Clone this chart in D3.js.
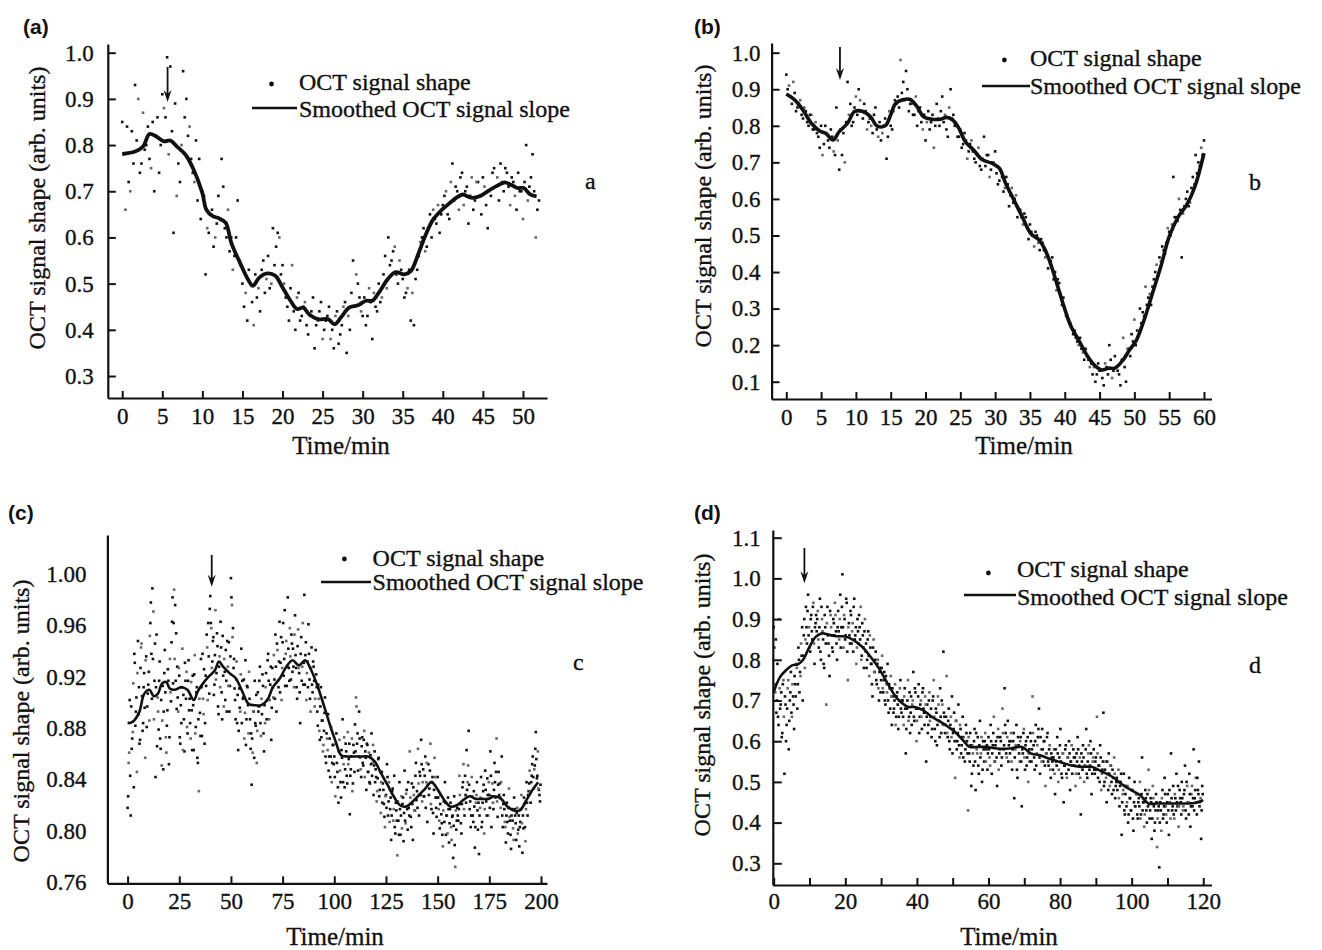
<!DOCTYPE html>
<html>
<head>
<meta charset="utf-8">
<script src="https://cdn.jsdelivr.net/npm/d3@7"></script>
<style>
  body { margin: 0; background: #fff; }
  svg text { font-family: "Liberation Serif", "Times New Roman", serif; fill: #111; stroke: #111; stroke-width: 0.35px; }
  .tag { font-family: "Liberation Sans", Arial, sans-serif; font-weight: bold; }
</style>
</head>
<body>
<svg id="fig" width="1322" height="950"></svg>
<script>
// ---- data ----
// (a)
const xTicksA = [0, 5, 10, 15, 20, 25, 30, 35, 40, 45, 50];
const yTicksA = [0.3, 0.4, 0.5, 0.6, 0.7, 0.8, 0.9, 1.0];
const curveA = [[0,0.781],[1.6,0.786],[2.6,0.797],[3.4,0.824],[4.2,0.819],[5.2,0.808],[6.0,0.81],[6.8,0.797],[7.9,0.779],[8.9,0.747],[10.0,0.696],[10.5,0.66],[11.3,0.646],[12,0.642],[12.9,0.632],[13.6,0.589],[14.7,0.545],[15.7,0.509],[16.3,0.495],[17.1,0.513],[18.1,0.522],[19.1,0.517],[19.9,0.495],[21,0.463],[21.8,0.445],[22.6,0.448],[23.3,0.434],[24.4,0.423],[25.7,0.423],[26.5,0.412],[27.3,0.427],[28.3,0.448],[29.4,0.453],[30.4,0.463],[31.2,0.463],[32,0.48],[33.1,0.509],[34.1,0.525],[35.2,0.52],[36,0.527],[37,0.567],[37.8,0.603],[38.8,0.639],[39.9,0.66],[40.9,0.675],[41.7,0.686],[42.5,0.693],[43.5,0.686],[44.6,0.689],[45.6,0.7],[46.7,0.711],[47.7,0.719],[48.5,0.714],[49.3,0.707],[50.1,0.707],[50.9,0.693],[51.7,0.689]];
// scatter: samples every 0.4 min, first set from t = 0, second from t = 0.2
const scatterA = [
  0.85,0.66,0.72,0.83,0.93,0.90,0.76,0.79,0.84,0.75,
  0.70,0.86,0.80,0.88,0.99,0.97,0.61,0.69,0.72,0.96,
  0.90,0.84,0.74,0.81,0.77,0.70,0.52,0.61,0.66,0.60,
  0.69,0.77,0.62,0.66,0.60,0.56,0.68,0.54,0.45,0.42,
  0.50,0.41,0.47,0.44,0.55,0.51,0.49,0.62,0.58,0.60,
  0.54,0.47,0.42,0.54,0.40,0.48,0.43,0.46,0.39,0.44,
  0.36,0.42,0.46,0.40,0.43,0.38,0.36,0.44,0.39,0.45,
  0.35,0.40,0.55,0.52,0.47,0.43,0.41,0.49,0.38,0.45,
  0.50,0.47,0.56,0.60,0.55,0.58,0.50,0.53,0.47,0.49,
  0.42,0.41,0.53,0.59,0.62,0.58,0.65,0.66,0.63,0.61,
  0.67,0.70,0.64,0.76,0.71,0.66,0.74,0.70,0.63,0.73,
  0.68,0.72,0.65,0.71,0.62,0.69,0.75,0.73,0.76,0.70,
  0.74,0.67,0.72,0.66,0.70,0.64,0.80,0.71,0.78,0.60,
  0.68];
const scatterA2 = [
  0.78,0.84,0.70,0.76,0.81,0.74,0.87,0.80,0.77,0.85,
  0.82,0.74,0.91,0.86,0.78,0.83,0.89,0.76,0.80,0.86,
  0.82,0.77,0.72,0.68,0.64,0.69,0.62,0.65,0.58,0.63,
  0.64,0.71,0.60,0.57,0.53,0.60,0.55,0.50,0.48,0.53,
  0.46,0.52,0.49,0.53,0.48,0.56,0.50,0.54,0.61,0.52,
  0.50,0.45,0.49,0.44,0.47,0.42,0.45,0.41,0.43,0.47,
  0.41,0.44,0.38,0.42,0.45,0.40,0.43,0.37,0.41,0.46,
  0.43,0.48,0.45,0.50,0.44,0.47,0.43,0.46,0.48,0.44,
  0.46,0.52,0.49,0.54,0.57,0.52,0.55,0.51,0.48,0.53,
  0.48,0.51,0.56,0.60,0.57,0.62,0.60,0.64,0.67,0.65,
  0.69,0.65,0.72,0.68,0.70,0.73,0.67,0.71,0.69,0.66,
  0.72,0.69,0.73,0.67,0.70,0.74,0.71,0.68,0.72,0.75,
  0.71,0.73,0.69,0.74,0.70,0.72,0.68,0.73,0.70,0.66];
const arrowA = [5.66, 0.969, 0.893];

// (b)
const xTicksB = [0, 5, 10, 15, 20, 25, 30, 35, 40, 45, 50, 55, 60];
const yTicksB = [0.1, 0.2, 0.3, 0.4, 0.5, 0.6, 0.7, 0.8, 0.9, 1.0];
const curveB = [[0,0.887],[1.2,0.871],[2.4,0.843],[3.6,0.807],[4.8,0.786],[5.7,0.779],[6.7,0.761],[7.6,0.784],[8.8,0.807],[9.8,0.839],[10.9,0.84],[12.1,0.825],[13,0.8],[14.2,0.8],[15,0.83],[15.7,0.861],[16.9,0.872],[17.8,0.872],[18.8,0.852],[19.7,0.825],[20.9,0.818],[22.1,0.818],[23,0.823],[23.9,0.816],[24.8,0.793],[25.7,0.757],[26.9,0.734],[28.1,0.708],[29.6,0.697],[30.6,0.684],[31.5,0.643],[32.7,0.597],[33.9,0.551],[35.1,0.506],[36.3,0.488],[37.2,0.46],[38.1,0.415],[39,0.36],[39.9,0.305],[40.8,0.255],[42,0.214],[43.3,0.169],[44.5,0.141],[45.3,0.132],[46.3,0.137],[47.2,0.137],[48.4,0.16],[49.3,0.187],[50.2,0.21],[51.4,0.269],[52.6,0.342],[53.8,0.415],[55,0.497],[56.3,0.551],[57.5,0.583],[58.7,0.634],[60,0.725]];
// scatter: samples every 0.4 min, first set from t = 0, second from t = 0.2
const scatterB = [
  0.94,0.91,0.86,0.89,0.85,0.87,0.82,0.84,0.80,0.83,
  0.79,0.78,0.74,0.72,0.80,0.76,0.79,0.73,0.85,0.68,
  0.72,0.70,0.92,0.86,0.81,0.88,0.90,0.84,0.86,0.79,
  0.82,0.78,0.85,0.77,0.76,0.80,0.71,0.84,0.79,0.87,
  0.88,0.98,0.92,0.95,0.84,0.86,0.83,0.80,0.85,0.79,
  0.76,0.84,0.81,0.74,0.86,0.80,0.88,0.83,0.77,0.90,
  0.83,0.80,0.77,0.74,0.78,0.71,0.75,0.73,0.70,0.74,
  0.68,0.77,0.72,0.66,0.70,0.73,0.64,0.68,0.62,0.66,
  0.58,0.63,0.60,0.55,0.57,0.53,0.55,0.49,0.51,0.47,
  0.50,0.46,0.48,0.44,0.41,0.43,0.38,0.35,0.37,0.31,
  0.30,0.28,0.26,0.23,0.22,0.20,0.19,0.16,0.17,0.14,
  0.12,0.10,0.15,0.13,0.09,0.14,0.20,0.11,0.17,0.13,
  0.09,0.22,0.10,0.19,0.23,0.27,0.24,0.30,0.29,0.36,
  0.33,0.31,0.38,0.42,0.44,0.47,0.45,0.52,0.50,0.66,
  0.55,0.60,0.44,0.58,0.62,0.59,0.66,0.72,0.70,0.74,
  0.76];
const scatterB2 = [
  0.90,0.88,0.92,0.84,0.86,0.83,0.85,0.81,0.83,0.79,
  0.81,0.77,0.80,0.75,0.78,0.74,0.77,0.72,0.76,0.79,
  0.78,0.81,0.83,0.80,0.85,0.83,0.87,0.82,0.84,0.81,
  0.80,0.83,0.79,0.81,0.78,0.82,0.77,0.80,0.84,0.86,
  0.85,0.89,0.87,0.90,0.86,0.83,0.88,0.84,0.81,0.83,
  0.81,0.79,0.83,0.80,0.82,0.84,0.81,0.79,0.85,0.82,
  0.80,0.77,0.79,0.75,0.76,0.73,0.76,0.71,0.72,0.69,
  0.71,0.69,0.72,0.68,0.70,0.67,0.65,0.66,0.63,0.64,
  0.61,0.59,0.61,0.57,0.55,0.56,0.52,0.53,0.50,0.51,
  0.48,0.49,0.46,0.45,0.43,0.44,0.40,0.38,0.34,0.33,
  0.28,0.27,0.25,0.24,0.21,0.22,0.18,0.19,0.16,0.15,
  0.14,0.12,0.13,0.11,0.15,0.12,0.16,0.13,0.14,0.12,
  0.16,0.14,0.19,0.17,0.21,0.20,0.24,0.26,0.28,0.31,
  0.34,0.36,0.40,0.39,0.43,0.46,0.48,0.51,0.53,0.55,
  0.54,0.57,0.56,0.60,0.58,0.63,0.64,0.67,0.69,0.72];
const arrowB = [7.71, 1.0156, 0.925];

// (c)
const xTicksC = [0, 25, 50, 75, 100, 125, 150, 175, 200];
const yTicksC = [0.76, 0.80, 0.84, 0.88, 0.92, 0.96, 1.00];
const curveC = [[0,0.884],[2.4,0.885],[5.5,0.892],[8.1,0.907],[10.6,0.91],[12.6,0.905],[14.7,0.907],[16.7,0.915],[18.7,0.916],[20.4,0.911],[22.8,0.91],[25.9,0.912],[28.9,0.91],[32,0.902],[34,0.909],[36.5,0.915],[39.1,0.92],[42.2,0.925],[44.2,0.932],[46.2,0.928],[49.3,0.923],[52.3,0.919],[55.4,0.909],[58.5,0.899],[61.5,0.898],[64.6,0.898],[67.6,0.902],[70.3,0.912],[73.7,0.919],[76.8,0.928],[79.8,0.933],[82.9,0.929],[85.9,0.933],[88.9,0.925],[92.1,0.912],[95.1,0.897],[98.2,0.881],[100.6,0.87],[103.3,0.859],[106.3,0.858],[109.4,0.858],[113.4,0.858],[116.5,0.858],[119.6,0.854],[122.6,0.845],[125.7,0.836],[128.7,0.827],[131.8,0.82],[134.8,0.819],[137.9,0.823],[141,0.828],[144,0.833],[147,0.838],[150.1,0.832],[153.2,0.824],[156.2,0.819],[159.3,0.82],[162.3,0.824],[165.4,0.827],[168.4,0.825],[171.5,0.825],[174.5,0.825],[177.6,0.827],[180.7,0.825],[183.7,0.819],[186.8,0.816],[189.8,0.816],[192.9,0.824],[195.9,0.832],[198.6,0.838]];
// scatter: samples every 0.5 min, first set from t = 0, second from t = 0.25
const scatterC = [
  0.818,0.853,0.902,0.812,0.864,0.877,0.834,0.931,0.893,0.846,0.948,0.912,0.871,0.943,0.905,0.884,0.923,0.857,0.936,0.897,
  0.914,0.886,0.962,0.938,0.989,0.971,0.917,0.842,0.953,0.904,0.879,0.932,0.864,0.851,0.913,0.893,0.941,0.873,0.882,0.926,
  0.852,0.934,0.901,0.963,0.915,0.988,0.976,0.954,0.928,0.893,0.921,0.868,0.884,0.942,0.906,0.862,0.917,0.924,0.876,0.933,
  0.903,0.872,0.894,0.921,0.863,0.937,0.881,0.912,0.853,0.831,0.892,0.934,0.874,0.903,0.926,0.884,0.913,0.943,0.962,0.907,
  0.983,0.958,0.932,0.951,0.914,0.972,0.923,0.944,0.891,0.936,0.963,0.908,0.952,0.897,0.924,0.941,0.893,0.928,0.947,0.913,
  0.997,0.976,0.958,0.934,0.902,0.918,0.884,0.863,0.911,0.893,0.942,0.917,0.904,0.872,0.933,0.887,0.912,0.876,0.903,0.864,
  0.836,0.861,0.893,0.917,0.882,0.853,0.908,0.897,0.928,0.874,0.891,0.913,0.862,0.884,0.923,0.902,0.938,0.887,0.914,0.871,
  0.927,0.904,0.918,0.953,0.893,0.941,0.912,0.963,0.931,0.902,0.947,0.921,0.972,0.938,0.913,0.982,0.927,0.958,0.918,0.946,
  0.942,0.912,0.968,0.927,0.903,0.957,0.923,0.884,0.951,0.928,0.914,0.984,0.937,0.902,0.932,0.961,0.918,0.893,0.943,0.908,
  0.928,0.897,0.941,0.912,0.882,0.903,0.871,0.912,0.886,0.862,0.878,0.904,0.853,0.872,0.891,0.858,0.842,0.881,0.853,0.867,
  0.858,0.827,0.876,0.846,0.822,0.871,0.838,0.863,0.887,0.852,0.834,0.868,0.843,0.877,0.856,0.813,0.848,0.872,0.837,0.861,
  0.883,0.904,0.868,0.847,0.893,0.857,0.842,0.873,0.851,0.878,0.862,0.832,0.867,0.846,0.838,0.859,0.876,0.853,0.828,0.862,
  0.848,0.823,0.841,0.857,0.832,0.814,0.846,0.837,0.821,0.803,0.828,0.852,0.812,0.838,0.817,0.793,0.831,0.808,0.843,0.798,
  0.816,0.781,0.808,0.838,0.797,0.827,0.821,0.792,0.847,0.806,0.832,0.801,0.818,0.862,0.811,0.837,0.793,0.828,0.816,0.853,
  0.831,0.864,0.812,0.843,0.871,0.823,0.848,0.827,0.858,0.838,0.807,0.852,0.833,0.868,0.817,0.842,0.798,0.857,0.826,0.811,
  0.842,0.817,0.802,0.828,0.806,0.788,0.823,0.838,0.797,0.812,0.826,0.791,0.817,0.803,0.811,0.779,0.827,0.772,0.801,0.818,
  0.808,0.843,0.821,0.798,0.834,0.852,0.812,0.828,0.863,0.838,0.878,0.817,0.803,0.842,0.812,0.831,0.787,0.822,0.838,0.801,
  0.782,0.818,0.842,0.807,0.831,0.798,0.847,0.823,0.841,0.812,0.828,0.862,0.803,0.837,0.817,0.853,0.826,0.872,0.811,0.846,
  0.837,0.818,0.858,0.803,0.828,0.807,0.791,0.822,0.798,0.833,0.808,0.786,0.817,0.802,0.826,0.812,0.793,0.818,0.801,0.788,
  0.807,0.828,0.783,0.802,0.821,0.792,0.838,0.812,0.831,0.847,0.822,0.843,0.858,0.833,0.851,0.877,0.841,0.862,0.832,0.823];
const scatterC2 = [
  0.827,0.861,0.843,0.897,0.872,0.915,0.938,0.882,0.904,0.923,0.891,0.868,0.927,0.946,0.878,0.912,0.896,0.933,0.881,0.907,
  0.924,0.952,0.978,0.903,0.934,0.887,0.946,0.912,0.866,0.893,0.917,0.872,0.902,0.886,0.848,0.923,0.908,0.861,0.894,0.917,
  0.873,0.908,0.947,0.982,0.962,0.934,0.917,0.895,0.904,0.927,0.873,0.898,0.912,0.863,0.887,0.931,0.903,0.881,0.917,0.894,
  0.884,0.916,0.863,0.898,0.922,0.876,0.908,0.857,0.887,0.903,0.874,0.912,0.938,0.891,0.868,0.921,0.953,0.902,0.936,0.973,
  0.962,0.927,0.948,0.906,0.937,0.918,0.954,0.897,0.928,0.912,0.943,0.887,0.921,0.934,0.902,0.917,0.948,0.913,0.893,0.936,
  0.982,0.951,0.927,0.911,0.887,0.932,0.906,0.878,0.896,0.922,0.884,0.903,0.918,0.892,0.867,0.913,0.898,0.924,0.887,0.876,
  0.872,0.893,0.857,0.884,0.906,0.878,0.893,0.917,0.884,0.903,0.922,0.876,0.898,0.912,0.887,0.933,0.917,0.902,0.928,0.896,
  0.912,0.937,0.903,0.928,0.946,0.917,0.932,0.908,0.951,0.927,0.962,0.934,0.913,0.948,0.928,0.942,0.917,0.936,0.953,0.924,
  0.928,0.953,0.937,0.912,0.944,0.927,0.908,0.938,0.917,0.962,0.931,0.914,0.947,0.923,0.912,0.938,0.903,0.927,0.914,0.932,
  0.917,0.903,0.922,0.893,0.914,0.878,0.897,0.873,0.886,0.867,0.892,0.858,0.876,0.863,0.847,0.872,0.858,0.838,0.867,0.852,
  0.842,0.868,0.853,0.834,0.862,0.847,0.826,0.857,0.838,0.873,0.848,0.862,0.837,0.852,0.868,0.843,0.858,0.831,0.867,0.846,
  0.862,0.897,0.876,0.858,0.872,0.848,0.866,0.853,0.871,0.842,0.857,0.868,0.846,0.861,0.837,0.852,0.843,0.867,0.851,0.838,
  0.842,0.831,0.856,0.827,0.846,0.838,0.822,0.832,0.811,0.827,0.818,0.842,0.823,0.807,0.826,0.812,0.833,0.817,0.803,0.822,
  0.808,0.823,0.797,0.817,0.812,0.802,0.826,0.814,0.808,0.829,0.817,0.838,0.812,0.826,0.803,0.821,0.834,0.816,0.843,0.824,
  0.818,0.837,0.846,0.828,0.852,0.838,0.827,0.843,0.818,0.853,0.836,0.828,0.847,0.821,0.838,0.814,0.832,0.842,0.818,0.826,
  0.826,0.808,0.821,0.813,0.797,0.816,0.807,0.822,0.812,0.798,0.817,0.806,0.822,0.793,0.812,0.804,0.789,0.816,0.808,0.812,
  0.817,0.828,0.806,0.821,0.838,0.817,0.843,0.822,0.832,0.851,0.836,0.823,0.812,0.827,0.807,0.819,0.803,0.828,0.816,0.822,
  0.812,0.826,0.803,0.822,0.836,0.817,0.832,0.812,0.828,0.838,0.818,0.843,0.827,0.822,0.832,0.838,0.846,0.823,0.836,0.828,
  0.826,0.838,0.812,0.821,0.817,0.803,0.812,0.807,0.818,0.811,0.797,0.812,0.808,0.793,0.817,0.806,0.814,0.798,0.812,0.803,
  0.817,0.806,0.812,0.826,0.803,0.817,0.822,0.828,0.837,0.831,0.838,0.852,0.842,0.848,0.864,0.856,0.843,0.833,0.828,0.836];
const arrowC = [40.7, 1.0151, 0.9903];

// (d)
const xTicksD = [0, 10, 20, 30, 40, 50, 60, 70, 80, 90, 100, 110, 120];
const yTicksD = [0.3, 0.4, 0.5, 0.6, 0.7, 0.8, 0.9, 1.0, 1.1];
const curveD = [[0,0.721],[1.8,0.758],[3.5,0.775],[5.3,0.787],[6.8,0.789],[8.2,0.8],[10,0.832],[11.8,0.857],[13.5,0.865],[15.3,0.862],[17.6,0.858],[20,0.857],[22.4,0.848],[24.7,0.832],[27.1,0.807],[29.4,0.779],[31.8,0.742],[34.1,0.709],[35.9,0.693],[37.6,0.684],[39.4,0.684],[41.8,0.676],[44.1,0.66],[46.5,0.648],[48.8,0.635],[50.6,0.623],[52.9,0.602],[54.7,0.586],[57.1,0.586],[59.4,0.586],[62.4,0.582],[65.9,0.582],[69.4,0.586],[71.8,0.57],[74.1,0.566],[77.1,0.557],[80,0.549],[82.9,0.541],[85.9,0.537],[88.8,0.537],[91.8,0.525],[94.7,0.512],[97.6,0.492],[100,0.479],[102.4,0.467],[104.7,0.447],[107.1,0.447],[109.4,0.447],[112.4,0.447],[115.3,0.447],[117.6,0.448],[120,0.455]];
// scatter: samples every 0.3 min, first set from t = 0, second from t = 0.15
const scatterD = [
  0.88,0.74,0.85,0.70,0.66,0.90,0.68,0.72,0.62,0.75,0.52,0.69,0.64,0.73,0.58,0.70,0.77,0.66,0.71,0.63,
  0.74,0.79,0.68,0.83,0.72,0.76,0.81,0.70,0.86,0.78,0.93,0.84,0.96,0.88,0.82,0.91,0.85,0.94,0.79,0.89,
  0.87,0.92,0.83,0.95,0.80,0.90,0.85,0.78,0.88,0.69,0.93,0.84,0.76,0.91,0.86,0.82,0.89,0.94,0.87,0.80,
  0.92,0.85,0.96,0.88,1.01,0.83,0.90,0.86,0.94,0.75,0.89,0.84,0.91,0.87,0.82,0.95,0.86,0.79,0.90,0.84,
  0.88,0.93,0.81,0.86,0.78,0.90,0.84,0.80,0.87,0.76,0.83,0.79,0.71,0.85,0.77,0.82,0.74,0.80,0.70,0.78,
  0.75,0.81,0.72,0.77,0.69,0.74,0.79,0.67,0.73,0.76,0.64,0.71,0.68,0.74,0.66,0.72,0.63,0.70,0.75,0.67,
  0.70,0.64,0.73,0.57,0.68,0.75,0.66,0.62,0.71,0.69,0.77,0.65,0.72,0.60,0.68,0.74,0.66,0.70,0.63,0.73,
  0.67,0.71,0.55,0.69,0.64,0.72,0.66,0.61,0.70,0.75,0.63,0.68,0.59,0.71,0.65,0.73,0.62,0.69,0.82,0.66,
  0.64,0.76,0.61,0.68,0.58,0.66,0.71,0.62,0.67,0.51,0.65,0.60,0.69,0.56,0.63,0.59,0.66,0.61,0.55,0.64,
  0.60,0.43,0.57,0.62,0.49,0.59,0.54,0.63,0.48,0.58,0.61,0.52,0.65,0.57,0.50,0.60,0.55,0.62,0.58,0.53,
  0.61,0.56,0.64,0.52,0.59,0.66,0.55,0.60,0.49,0.63,0.57,0.61,0.54,0.68,0.58,0.73,0.62,0.56,0.65,0.59,
  0.57,0.62,0.53,0.60,0.46,0.58,0.64,0.51,0.59,0.55,0.61,0.44,0.57,0.63,0.53,0.60,0.56,0.50,0.58,0.62,
  0.55,0.71,0.59,0.53,0.64,0.57,0.61,0.68,0.52,0.58,0.63,0.55,0.60,0.49,0.57,0.62,0.54,0.59,0.51,0.56,
  0.53,0.58,0.47,0.55,0.61,0.50,0.56,0.63,0.52,0.57,0.45,0.54,0.59,0.51,0.56,0.60,0.48,0.55,0.52,0.58,
  0.54,0.49,0.57,0.61,0.52,0.56,0.42,0.55,0.59,0.50,0.54,0.63,0.51,0.57,0.53,0.60,0.47,0.55,0.58,0.52,
  0.56,0.66,0.51,0.54,0.59,0.48,0.53,0.67,0.50,0.55,0.45,0.52,0.57,0.49,0.54,0.47,0.51,0.56,0.46,0.50,
  0.48,0.53,0.44,0.50,0.37,0.47,0.52,0.42,0.49,0.45,0.40,0.51,0.46,0.43,0.48,0.38,0.50,0.44,0.47,0.41,
  0.46,0.50,0.42,0.56,0.45,0.39,0.48,0.43,0.47,0.53,0.41,0.46,0.36,0.49,0.44,0.40,0.47,0.34,0.43,0.29,
  0.45,0.38,0.48,0.42,0.51,0.44,0.40,0.47,0.37,0.45,0.57,0.43,0.49,0.41,0.46,0.52,0.44,0.39,0.48,0.45,
  0.50,0.43,0.47,0.54,0.41,0.49,0.45,0.52,0.39,0.47,0.44,0.58,0.46,0.51,0.42,0.48,0.55,0.45,0.36,0.49];
const scatterD2 = [
  0.83,0.72,0.67,0.79,0.64,0.73,0.69,0.61,0.74,0.66,0.71,0.60,0.68,0.75,0.65,0.72,0.67,0.74,0.69,0.76,
  0.71,0.78,0.74,0.80,0.77,0.84,0.88,0.81,0.90,0.85,0.88,0.92,0.86,0.83,0.90,0.87,0.93,0.84,0.88,0.91,
  0.90,0.85,0.88,0.82,0.93,0.87,0.79,0.91,0.84,0.89,0.86,0.81,0.92,0.88,0.83,0.90,0.86,0.91,0.84,0.88,
  0.87,0.90,0.83,0.93,0.88,0.91,0.85,0.95,0.82,0.88,0.86,0.92,0.84,0.89,0.93,0.85,0.88,0.83,0.87,0.91,
  0.85,0.80,0.89,0.83,0.87,0.82,0.78,0.85,0.81,0.86,0.79,0.74,0.83,0.77,0.80,0.75,0.79,0.73,0.77,0.72,
  0.78,0.73,0.75,0.70,0.76,0.72,0.70,0.74,0.68,0.71,0.73,0.67,0.70,0.64,0.71,0.69,0.66,0.73,0.68,0.70,
  0.66,0.71,0.68,0.63,0.70,0.65,0.72,0.67,0.64,0.70,0.66,0.73,0.68,0.65,0.71,0.62,0.69,0.66,0.72,0.68,
  0.64,0.69,0.66,0.62,0.70,0.65,0.68,0.63,0.71,0.66,0.60,0.67,0.64,0.69,0.61,0.66,0.70,0.64,0.67,0.62,
  0.66,0.62,0.65,0.60,0.64,0.61,0.57,0.63,0.60,0.65,0.58,0.62,0.59,0.64,0.57,0.61,0.56,0.60,0.58,0.62,
  0.57,0.61,0.55,0.59,0.52,0.57,0.60,0.55,0.62,0.57,0.54,0.59,0.56,0.61,0.53,0.58,0.60,0.55,0.59,0.57,
  0.58,0.54,0.60,0.57,0.62,0.55,0.59,0.56,0.61,0.53,0.58,0.60,0.56,0.62,0.59,0.64,0.57,0.61,0.55,0.60,
  0.60,0.55,0.58,0.62,0.56,0.59,0.53,0.61,0.57,0.60,0.55,0.58,0.62,0.56,0.59,0.54,0.61,0.57,0.55,0.60,
  0.58,0.62,0.56,0.60,0.54,0.59,0.63,0.56,0.61,0.55,0.58,0.60,0.54,0.57,0.61,0.55,0.58,0.53,0.57,0.55,
  0.56,0.52,0.58,0.54,0.57,0.53,0.59,0.55,0.51,0.57,0.54,0.58,0.52,0.56,0.53,0.57,0.55,0.59,0.54,0.56,
  0.56,0.52,0.55,0.58,0.54,0.51,0.57,0.53,0.56,0.54,0.58,0.52,0.55,0.59,0.54,0.57,0.52,0.56,0.53,0.55,
  0.53,0.57,0.54,0.50,0.56,0.52,0.55,0.49,0.53,0.51,0.55,0.48,0.52,0.54,0.50,0.53,0.48,0.52,0.49,0.51,
  0.50,0.46,0.49,0.52,0.45,0.48,0.43,0.47,0.44,0.49,0.42,0.46,0.43,0.48,0.41,0.45,0.44,0.47,0.42,0.45,
  0.44,0.41,0.47,0.43,0.45,0.42,0.46,0.40,0.44,0.48,0.43,0.45,0.41,0.46,0.38,0.43,0.45,0.41,0.44,0.40,
  0.43,0.46,0.41,0.44,0.47,0.42,0.45,0.43,0.48,0.41,0.46,0.44,0.42,0.47,0.43,0.45,0.49,0.44,0.46,0.42,
  0.46,0.44,0.48,0.43,0.50,0.45,0.42,0.47,0.44,0.49,0.46,0.43,0.48,0.45,0.51,0.47,0.44,0.46,0.43,0.47];
const arrowD = [8.58, 1.0747, 0.988];

const legendLabels = ['OCT signal shape', 'Smoothed OCT signal slope'];

// ---- layout for each panel ----
const panels = [
  { tag: '(a)', tagX: 23, tagY: 34, letter: 'a', letterX: 585, letterY: 189,
    curve: curveA, arrow: arrowA, dot: 2.6,
    sets: [{ v: scatterA, t0: 0, dt: 0.4 }, { v: scatterA2, t0: 0.2, dt: 0.4 }],
    xDomain: [-1.8, 53.0], xRange: [107.8, 547], xTicks: xTicksA, xFmt: d3.format('d'),
    yDomain: [0.2524, 1.0188], yRange: [398, 44], yTicks: yTicksA, yFmt: d3.format('.1f'),
    yTickLen: 8, yPad: 14, xTickLen: 7, xPad: 10, lineW: 3.8,
    yLabel: [37, 208], xLabel: [341, 445],
    legend: { dot: [271.5, 84], textX: 299, row1: 90, row2: 117, line: [252, 297, 108] } },
  { tag: '(b)', tagX: 694, tagY: 34, letter: 'b', letterX: 1249, letterY: 190,
    curve: curveB, arrow: arrowB, dot: 2.6,
    sets: [{ v: scatterB, t0: 0, dt: 0.4 }, { v: scatterB2, t0: 0.2, dt: 0.4 }],
    xDomain: [-2.11, 61.08], xRange: [771.6, 1211.5], xTicks: xTicksB, xFmt: d3.format('d'),
    yDomain: [0.0527, 1.0265], yRange: [399, 43], yTicks: yTicksB, yFmt: d3.format('.1f'),
    yTickLen: 8, yPad: 11, xTickLen: 7, xPad: 10, lineW: 3.6,
    yLabel: [703, 206], xLabel: [1024, 445],
    legend: { dot: [1004.4, 60], textX: 1030, row1: 66, row2: 94, line: [982, 1030, 86] } },
  { tag: '(c)', tagX: 8, tagY: 520, letter: 'c', letterX: 573, letterY: 670,
    curve: curveC, arrow: arrowC, dot: 2.6,
    sets: [{ v: scatterC, t0: 0, dt: 0.5 }, { v: scatterC2, t0: 0.25, dt: 0.5 }],
    xDomain: [-9.77, 202.9], xRange: [107.4, 547], xTicks: xTicksC, xFmt: d3.format('d'),
    yDomain: [0.7592, 1.0306], yRange: [883.3, 535], yTicks: yTicksC, yFmt: d3.format('.2f'),
    yTickLen: 0, yPad: 21, xTickLen: 7, xPad: 9, lineW: 2.6,
    yLabel: [21, 721], xLabel: [335, 936],
    legend: { dot: [344.4, 559], textX: 372.6, row1: 566, row2: 590, line: [321, 371, 582] } },
  { tag: '(d)', tagX: 694, tagY: 520, letter: 'd', letterX: 1249, letterY: 673,
    curve: curveD, arrow: arrowD, dot: 2.6,
    sets: [{ v: scatterD, t0: 0, dt: 0.3 }, { v: scatterD2, t0: 0.15, dt: 0.3 }],
    xDomain: [-0.25, 122.3], xRange: [772.8, 1211.5], xTicks: xTicksD,
    xFmt: v => (v % 20 === 0 ? d3.format('d')(v) : ''),
    yDomain: [0.2467, 1.1189], yRange: [885, 530], yTicks: yTicksD, yFmt: d3.format('.1f'),
    yTickLen: 9, yPad: 12, xTickLen: 7, xPad: 8, lineW: 2.6,
    yLabel: [702, 695], xLabel: [1009, 936],
    legend: { dot: [988.4, 573], textX: 1017, row1: 577, row2: 605, line: [964, 1016, 595] } }
];

const svg = d3.select('#fig');

function drawPanel(p) {
  const g = svg.append('g');
  const x = d3.scaleLinear().domain(p.xDomain).range(p.xRange);
  const y = d3.scaleLinear().domain(p.yDomain).range(p.yRange);

  // scatter points (regularly sampled signal)
  const pts = p.sets.flatMap(s => s.v.map((v, i) => [s.t0 + i * s.dt, v]));
  const h = p.dot / 2;
  g.append('g').selectAll('rect')
    .data(pts)
    .join('rect')
    .attr('x', d => x(d[0]) - h)
    .attr('y', d => y(d[1]) - h)
    .attr('width', p.dot)
    .attr('height', p.dot)
    .attr('fill', (d, i) => (i % 4 === 1 ? '#666' : '#111'));

  // smoothed curve
  const line = d3.line()
    .x(d => x(d[0]))
    .y(d => y(d[1]))
    .curve(d3.curveCatmullRom.alpha(0.5));
  g.append('path')
    .datum(p.curve)
    .attr('d', line)
    .attr('fill', 'none')
    .attr('stroke', '#111')
    .attr('stroke-width', p.lineW)
    .attr('stroke-linejoin', 'round');

  // axes
  const yAxis = d3.axisLeft(y)
    .tickValues(p.yTicks).tickFormat(p.yFmt)
    .tickSizeInner(-p.yTickLen).tickSizeOuter(0).tickPadding(p.yPad);
  const xAxis = d3.axisBottom(x)
    .tickValues(p.xTicks).tickFormat(p.xFmt)
    .tickSizeInner(-p.xTickLen).tickSizeOuter(0).tickPadding(p.xPad);

  const gy = g.append('g')
    .attr('transform', `translate(${p.xRange[0]},0)`)
    .call(yAxis);
  const gx = g.append('g')
    .attr('transform', `translate(0,${p.yRange[0]})`)
    .call(xAxis);
  [gy, gx].forEach(a => {
    a.select('.domain').attr('stroke', '#111').attr('stroke-width', 2.2);
    a.selectAll('.tick line').attr('stroke', '#111').attr('stroke-width', 2);
    a.selectAll('.tick text')
      .attr('fill', '#111')
      .style('font-size', '23px')
      .style('font-family', '"Liberation Serif", "Times New Roman", serif');
  });

  // axis titles
  g.append('text')
    .attr('transform', `translate(${p.yLabel[0]},${p.yLabel[1]}) rotate(-90)`)
    .attr('text-anchor', 'middle')
    .attr('dominant-baseline', 'central')
    .style('font-size', '24px')
    .text('OCT signal shape (arb. units)');
  g.append('text')
    .attr('x', p.xLabel[0])
    .attr('y', p.xLabel[1])
    .attr('text-anchor', 'middle')
    .attr('dominant-baseline', 'central')
    .style('font-size', '25px')
    .text('Time/min');

  // arrow marking the start
  const ax = x(p.arrow[0]);
  const y0 = y(p.arrow[1]);
  const y1 = y(p.arrow[2]);
  g.append('line')
    .attr('x1', ax).attr('x2', ax)
    .attr('y1', y0).attr('y2', y1 - 6)
    .attr('stroke', '#111').attr('stroke-width', 1.8);
  g.append('path')
    .attr('d', `M${ax - 4},${y1 - 12} L${ax},${y1} L${ax + 4},${y1 - 12} L${ax},${y1 - 8} Z`)
    .attr('fill', '#111');

  // legend
  const L = p.legend;
  g.append('circle')
    .attr('cx', L.dot[0]).attr('cy', L.dot[1]).attr('r', 2.4)
    .attr('fill', '#111');
  g.append('line')
    .attr('x1', L.line[0]).attr('x2', L.line[1])
    .attr('y1', L.line[2]).attr('y2', L.line[2])
    .attr('stroke', '#111').attr('stroke-width', 2.6);
  g.selectAll('.leg')
    .data(legendLabels)
    .join('text')
    .attr('class', 'leg')
    .attr('x', L.textX)
    .attr('y', (d, i) => (i === 0 ? L.row1 : L.row2))
    .style('font-size', '24px')
    .text(d => d);

  // panel tag and letter
  g.append('text')
    .attr('class', 'tag')
    .attr('x', p.tagX).attr('y', p.tagY)
    .style('font-size', '21px')
    .style('stroke-width', '0')
    .text(p.tag);
  g.append('text')
    .attr('x', p.letterX).attr('y', p.letterY)
    .style('font-size', '24px')
    .text(p.letter);
}

panels.forEach(drawPanel);
</script>
</body>
</html>
